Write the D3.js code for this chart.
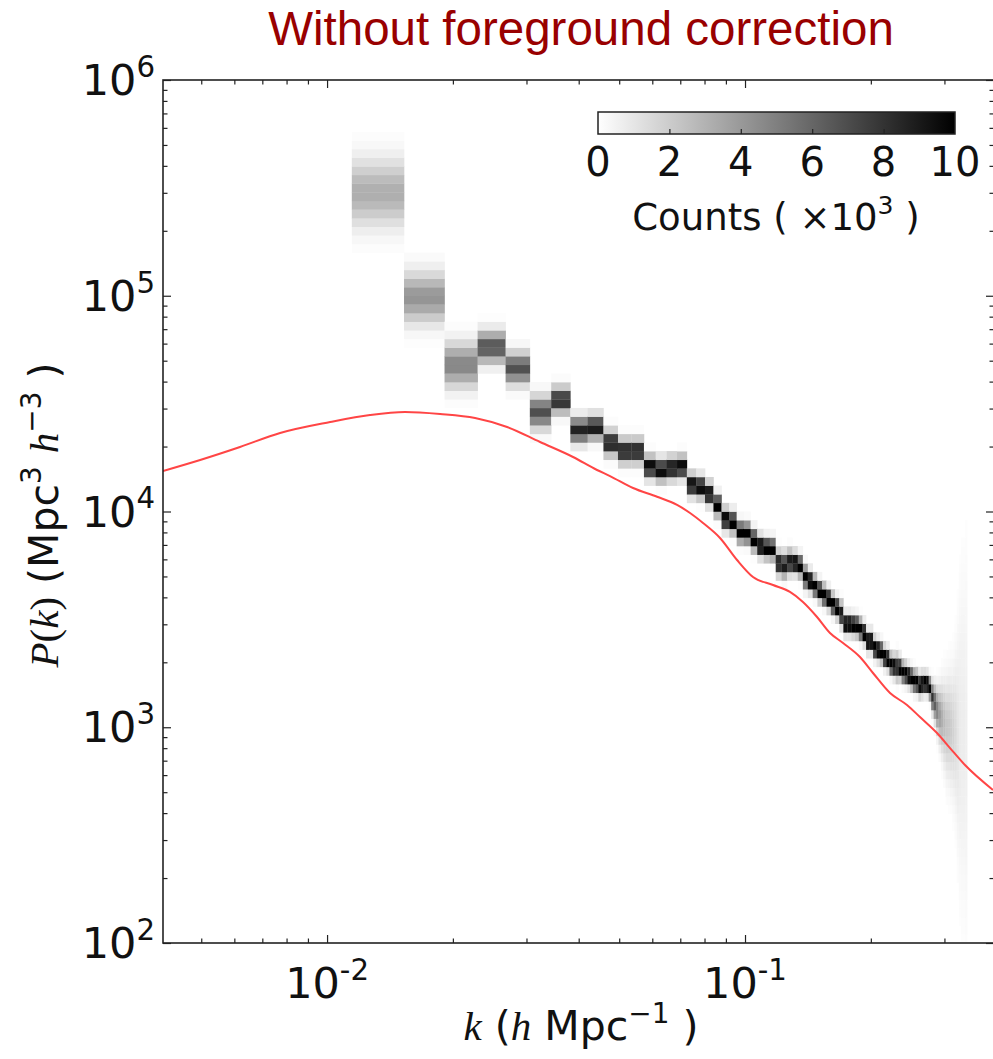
<!DOCTYPE html>
<html><head><meta charset="utf-8">
<script src="https://cdn.jsdelivr.net/npm/d3@7"></script>
<style>body{margin:0;background:#fff;} svg{display:block}</style>
</head><body>
<svg id="chart" width="993" height="1059"></svg>
<script>
// ---------------- data ----------------
const titleText = "Without foreground correction";
const kBinWidth = 0.00382;          // linear k bins (h/Mpc)
const firstBinIndex = 3;            // first populated bin = [3dk, 4dk]
// centre of the P(k) distribution in each k bin (Mpc^3 h^-3)
const binCentersP = [
  300000, 98000, 47800, 57900, 46200, 28900, 32900, 23900, 24600, 20800,
  19100, 19100, 16100, 15600, 15900, 16100, 13300, 13000, 12100, 10700,
  9230, 8940, 8030, 7940, 7380, 6920, 6770, 6700, 5770, 5650,
  5830, 5770, 5590, 4970, 4760, 4510, 4280, 4100, 3930, 3720,
  3570, 3350, 3010, 3010, 2980, 2950, 2850, 2730, 2510, 2510,
  2330, 2280, 2230, 2120, 2070, 1960, 1920, 1900, 1880, 1800,
  1770, 1730, 1690, 1640, 1620, 1570, 1590, 1600, 1590, 1520,
  1380, 1290, 1200, 1140, 1100, 1050, 1000, 1000, 980, 960,
  950, 900, 900, 900, 900, 850
];
// spread (dex) of the distribution in each k bin
const binSpreadDex = [
  0.10, 0.075, 0.065, 0.045, 0.045, 0.045, 0.035, 0.035, 0.032, 0.032,
  0.032, 0.032, 0.029, 0.029, 0.029, 0.029, 0.028, 0.028, 0.028, 0.027,
  0.027, 0.027, 0.026, 0.026, 0.026, 0.026, 0.026, 0.026, 0.03, 0.032,
  0.03, 0.026, 0.026, 0.028, 0.024, 0.024, 0.024, 0.024, 0.024, 0.024,
  0.024, 0.03, 0.024, 0.024, 0.024, 0.024, 0.025, 0.024, 0.024, 0.024,
  0.024, 0.024, 0.024, 0.024, 0.024, 0.024, 0.026, 0.032, 0.026, 0.024,
  0.024, 0.024, 0.025, 0.026, 0.026, 0.026, 0.026, 0.024, 0.024, 0.026,
  0.038, 0.048, 0.062, 0.08, 0.10, 0.12, 0.14, 0.15, 0.16, 0.18,
  0.22, 0.30, 0.40, 0.45, 0.45, 0.50
];
const realizationsK = 20;          // total counts per k bin (x10^3)
const yBinDex = 0.04;              // histogram bin height in log10 P
const countMax = 10;               // colour scale max (x10^3)

// theoretical (red) power spectrum
const theoryK = [0.00405, 0.00497, 0.00619, 0.00772, 0.01017, 0.01267, 0.01537, 0.01864, 0.0226, 0.02696,
  0.03233, 0.03877, 0.04425, 0.04753, 0.05396, 0.0616, 0.06877, 0.07387, 0.07935, 0.08713,
  0.0957, 0.1045, 0.1167, 0.1281, 0.1376, 0.1487, 0.1597, 0.1716, 0.1884, 0.2024,
  0.2223, 0.2441, 0.2622, 0.288, 0.3094, 0.336, 0.392];
const theoryP = [15410, 17330, 19910, 23110, 25990, 28010, 28920, 28310, 27130, 24650,
  20990, 17890, 15570, 14600, 12850, 11700, 10720, 9840, 8845, 7540,
  5960, 4970, 4564, 4237, 3806, 3243, 2734, 2458, 2116, 1784,
  1441, 1268, 1115, 940, 801, 668, 512];

const xMajorTicks = [0.01, 0.1];
const xMajorExp = ["-2", "-1"];
const xMinorTicks = [0.005,0.006,0.007,0.008,0.009,0.02,0.03,0.04,0.05,0.06,0.07,0.08,0.09,0.2,0.3];
const yMajorTicks = [1e2, 1e3, 1e4, 1e5, 1e6];
const yMajorExp = ["2", "3", "4", "5", "6"];
const yMinorTicks = [];
[1e2,1e3,1e4,1e5].forEach(d => [2,3,4,5,6,7,8,9].forEach(m => yMinorTicks.push(d*m)));
const cbTicks = [0, 2, 4, 6, 8, 10];
const kDomain = [0.00405, 0.3942];
const pDomain = [1e2, 1e6];

// ---------------- layout ----------------
const L = 163, R = 994, T = 80, B = 943;
const svg = d3.select("#chart");
const defs = svg.append("defs");
defs.append("clipPath").attr("id", "plotClip").append("rect")
  .attr("x", L).attr("y", T).attr("width", R - L).attr("height", B - T);
defs.append("filter").attr("id", "soft").attr("x", "-5%").attr("y", "-5%").attr("width", "110%").attr("height", "110%")
  .append("feGaussianBlur").attr("stdDeviation", 0.6);

const x = d3.scaleLog().domain(kDomain).range([L, R]);
const y = d3.scaleLog().domain(pDomain).range([B, T]);
const color = d3.scaleLinear().domain([0, countMax]).range(["#ffffff", "#000000"]).clamp(true);

// normal CDF
function erf(z) {
  const t = 1 / (1 + 0.3275911 * Math.abs(z));
  const yv = 1 - (((((1.061405429 * t - 1.453152027) * t) + 1.421413741) * t - 0.284496736) * t + 0.254829592) * t * Math.exp(-z * z);
  return z >= 0 ? yv : -yv;
}
const Phi = z => 0.5 * (1 + erf(z / Math.SQRT2));

// ---------------- heatmap ----------------
const cells = [];
const nY = Math.round((Math.log10(pDomain[1]) - Math.log10(pDomain[0])) / yBinDex);
binCentersP.forEach((pc, j) => {
  const n = firstBinIndex + j;
  const k0 = n * kBinWidth, k1 = (n + 1) * kBinWidth;
  const mu = Math.log10(pc), s = binSpreadDex[j];
  for (let i = 0; i < nY; i++) {
    const lo = Math.log10(pDomain[0]) + i * yBinDex, hi = lo + yBinDex;
    const c = (Phi((hi - mu) / s) - Phi((lo - mu) / s)) * realizationsK;
    if (c < 0.08) continue;
    cells.push({ k0, k1, p0: Math.pow(10, lo), p1: Math.pow(10, hi), c });
  }
});
const hm = svg.append("g").attr("clip-path", "url(#plotClip)").append("g").attr("filter", "url(#soft)");
hm.selectAll("rect").data(cells).join("rect")
  .attr("x", d => x(d.k0)).attr("width", d => x(d.k1) - x(d.k0) + 0.3)
  .attr("y", d => y(d.p1)).attr("height", d => y(d.p0) - y(d.p1) + 0.3)
  .attr("fill", d => color(d.c));

// ---------------- theory line ----------------
const theory = theoryK.map((k, i) => ({ k, p: theoryP[i] }));
svg.append("g").attr("clip-path", "url(#plotClip)").append("path")
  .datum(theory)
  .attr("d", d3.line().x(d => x(d.k)).y(d => y(d.p)).curve(d3.curveMonotoneX))
  .attr("fill", "none").attr("stroke", "#ff4545").attr("stroke-width", 2);

// ---------------- axes ----------------
const axisColor = "#222";
function styleAxis(g) {
  g.select(".domain").remove();
  g.selectAll(".tick line").attr("stroke", axisColor).attr("stroke-width", 1.2);
  g.selectAll(".tick text").remove();
}
svg.append("g").attr("transform", `translate(0,${B})`).call(d3.axisBottom(x).tickValues(xMajorTicks).tickSize(-8)).call(styleAxis);
svg.append("g").attr("transform", `translate(0,${B})`).call(d3.axisBottom(x).tickValues(xMinorTicks).tickSize(-4.5)).call(styleAxis);
svg.append("g").attr("transform", `translate(0,${T})`).call(d3.axisTop(x).tickValues(xMajorTicks).tickSize(-8)).call(styleAxis);
svg.append("g").attr("transform", `translate(0,${T})`).call(d3.axisTop(x).tickValues(xMinorTicks).tickSize(-4.5)).call(styleAxis);
svg.append("g").attr("transform", `translate(${L},0)`).call(d3.axisLeft(y).tickValues(yMajorTicks).tickSize(-8)).call(styleAxis);
svg.append("g").attr("transform", `translate(${L},0)`).call(d3.axisLeft(y).tickValues(yMinorTicks).tickSize(-4.5)).call(styleAxis);
svg.append("g").attr("transform", `translate(${R},0)`).call(d3.axisRight(y).tickValues(yMajorTicks).tickSize(-8)).call(styleAxis);
svg.append("g").attr("transform", `translate(${R},0)`).call(d3.axisRight(y).tickValues(yMinorTicks).tickSize(-4.5)).call(styleAxis);

svg.append("rect").attr("x", L).attr("y", T).attr("width", R - L).attr("height", B - T)
  .attr("fill", "none").attr("stroke", axisColor).attr("stroke-width", 1.6);

// rich text helper: parts = [{t, sup, font, italic}]
function rich(sel, parts, size) {
  const shift = size * 0.42;
  let raised = false;
  parts.forEach(p => {
    const ts = sel.append("tspan").text(p.t);
    if (p.font) ts.attr("font-family", p.font);
    if (p.italic) ts.attr("font-style", "italic");
    if (p.sup && !raised) { ts.attr("dy", -shift); raised = true; }
    else if (!p.sup && raised) { ts.attr("dy", shift); raised = false; }
    ts.attr("font-size", p.sup ? size * 0.68 : size);
  });
  return sel;
}
const sans = "DejaVu Sans";
const serif = "Liberation Serif";

// tick labels
xMajorTicks.forEach((v, i) => {
  const t = svg.append("text").attr("x", x(v)).attr("y", 998).attr("text-anchor", "middle")
    .attr("font-family", sans).attr("fill", "#111");
  rich(t, [{ t: "10" }, { t: xMajorExp[i], sup: true }], 43);
});
yMajorTicks.forEach((v, i) => {
  const t = svg.append("text").attr("x", 155).attr("y", y(v) + 15).attr("text-anchor", "end")
    .attr("font-family", sans).attr("fill", "#111");
  rich(t, [{ t: "10" }, { t: yMajorExp[i], sup: true }], 43);
});

// axis titles
const xl = svg.append("text").attr("x", 581).attr("y", 1040).attr("text-anchor", "middle")
  .attr("font-family", sans).attr("fill", "#111");
rich(xl, [{ t: "k", font: serif, italic: true }, { t: " (" }, { t: "h", font: serif, italic: true }, { t: " Mpc" }, { t: "\u22121", sup: true }, { t: " )" }], 41);

const yl = svg.append("text").attr("transform", "translate(58,515) rotate(-90)").attr("text-anchor", "middle")
  .attr("font-family", sans).attr("fill", "#111");
rich(yl, [{ t: "P", font: serif, italic: true }, { t: "(", font: serif }, { t: "k", font: serif, italic: true }, { t: ")", font: serif },
  { t: "  (Mpc" }, { t: "3", sup: true }, { t: "  " }, { t: "h", font: serif, italic: true }, { t: "\u22123", sup: true }, { t: " )" }], 41);

// title
svg.append("text").attr("x", 581).attr("y", 45).attr("text-anchor", "middle")
  .attr("font-family", "Liberation Sans").attr("font-size", 47.5).attr("fill", "#990000").text(titleText);

// ---------------- colorbar ----------------
const cbX0 = 598, cbX1 = 955, cbY = 112, cbH = 22;
const cbScale = d3.scaleLinear().domain([0, countMax]).range([cbX0, cbX1]);
const grad = defs.append("linearGradient").attr("id", "cbGrad");
grad.append("stop").attr("offset", "0%").attr("stop-color", color(0));
grad.append("stop").attr("offset", "100%").attr("stop-color", color(countMax));
svg.append("rect").attr("x", cbX0).attr("y", cbY).attr("width", cbX1 - cbX0).attr("height", cbH)
  .attr("fill", "url(#cbGrad)").attr("stroke", axisColor).attr("stroke-width", 1.5);
svg.append("g").attr("transform", `translate(0,${cbY + cbH})`)
  .call(d3.axisBottom(cbScale).tickValues(cbTicks.slice(1, -1)).tickSize(-5)).call(styleAxis);
svg.append("g").selectAll("text").data(cbTicks).join("text")
  .attr("x", d => cbScale(d)).attr("y", 176).attr("text-anchor", "middle")
  .attr("font-family", sans).attr("font-size", 40).attr("fill", "#111").text(d => d);
const cl = svg.append("text").attr("x", 776).attr("y", 230).attr("text-anchor", "middle")
  .attr("font-family", sans).attr("fill", "#111");
rich(cl, [{ t: "Counts ( \u00d710" }, { t: "3", sup: true }, { t: " )" }], 37);
</script>
</body></html>
